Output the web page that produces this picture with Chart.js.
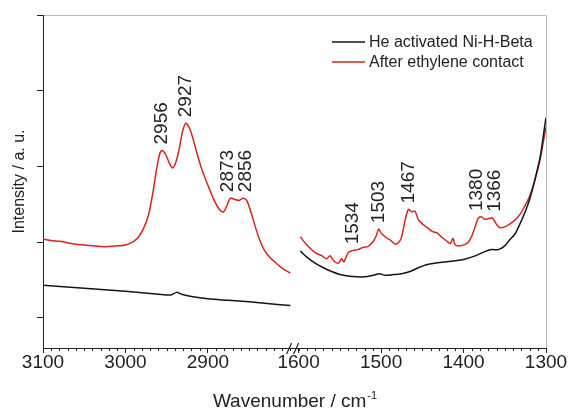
<!DOCTYPE html>
<html>
<head>
<meta charset="utf-8">
<script src="https://cdn.jsdelivr.net/npm/chart.js@4.4.0/dist/chart.umd.min.js"></script>
<style>
  html, body { margin: 0; padding: 0; background: #fff; }
  canvas { display: block; }
</style>
</head>
<body>
<canvas id="irChart" width="569" height="411"></canvas>
<script>
// left part of the broken axis (C-H stretching)
const wnHighRed = [3100, 3090, 3080, 3070, 3060, 3050, 3040, 3030, 3020, 3010, 3000, 2990, 2984, 2978,
    2972, 2966, 2962, 2958, 2955, 2951, 2947, 2943, 2939, 2935, 2931, 2927, 2923, 2919, 2914, 2908,
    2900, 2892, 2886, 2881, 2877, 2873, 2869, 2863, 2857, 2853, 2848, 2843, 2838, 2832, 2825, 2815,
    2808, 2800];
const redHigh = [1.04, 1.02, 1.01, 0.99, 0.97, 0.96, 0.95, 0.94, 0.94, 0.95, 0.96, 1.01, 1.07, 1.18,
    1.36, 1.70, 1.98, 2.18, 2.21, 2.15, 2.05, 1.98, 2.05, 2.22, 2.45, 2.57, 2.52, 2.40, 2.20, 1.98,
    1.75, 1.54, 1.43, 1.40, 1.48, 1.58, 1.57, 1.55, 1.58, 1.55, 1.40, 1.22, 1.05, 0.90, 0.80, 0.70,
    0.64, 0.59];
const wnHighBlack = [3100, 3050, 3000, 2960, 2945, 2938, 2932, 2920, 2900, 2875, 2850, 2825, 2800];
const blackHigh = [0.43, 0.39, 0.35, 0.31, 0.30, 0.335, 0.31, 0.28, 0.25, 0.23, 0.21, 0.185, 0.16];

// right part of the broken axis (C-H bending)
const wnLowRed = [1598, 1590, 1580, 1572, 1566, 1562, 1558, 1552, 1548, 1545, 1540, 1534, 1528, 1522,
    1516, 1510, 1506, 1503, 1500, 1494, 1488, 1482, 1476, 1471, 1467, 1463, 1459, 1455, 1450, 1444,
    1438, 1432, 1426, 1420, 1416, 1413, 1410, 1404, 1398, 1394, 1390, 1386, 1382, 1378, 1374, 1369,
    1365, 1361, 1356, 1348, 1340, 1334, 1328, 1320, 1314, 1307, 1302, 1300];
const redLow = [1.07, 0.96, 0.86, 0.82, 0.78, 0.82, 0.76, 0.72, 0.78, 0.74, 0.86, 0.89, 0.90, 0.93,
    0.94, 1.00, 1.08, 1.17, 1.12, 1.06, 1.02, 0.97, 1.04, 1.28, 1.43, 1.40, 1.41, 1.30, 1.24, 1.19,
    1.14, 1.12, 1.06, 1.01, 0.98, 1.05, 0.96, 0.95, 0.97, 1.00, 1.08, 1.20, 1.32, 1.33, 1.30, 1.31,
    1.32, 1.25, 1.19, 1.21, 1.27, 1.33, 1.43, 1.60, 1.80, 2.10, 2.40, 2.52];
const wnLowBlack = [1598, 1590, 1580, 1570, 1560, 1550, 1540, 1530, 1520, 1510, 1502, 1495, 1485, 1475,
    1465, 1455, 1445, 1435, 1420, 1400, 1385, 1375, 1366, 1358, 1350, 1344, 1338, 1332, 1326, 1320,
    1314, 1307, 1302, 1300];
const blackLow = [0.88, 0.80, 0.72, 0.66, 0.61, 0.57, 0.55, 0.54, 0.54, 0.56, 0.58, 0.56, 0.57, 0.58,
    0.61, 0.66, 0.70, 0.72, 0.74, 0.77, 0.82, 0.87, 0.90, 0.90, 0.95, 1.03, 1.10, 1.23, 1.38, 1.56,
    1.80, 2.13, 2.50, 2.64];

const highTicks = [3100, 3000, 2900];
const lowTicks = [1600, 1500, 1400, 1300];
const yTicks = [0, 1, 2, 3, 4];
const peakLabels = [2956, 2927, 2873, 2856, 1534, 1503, 1467, 1380, 1366];
const seriesNames = ['He activated Ni-H-Beta', 'After ethylene contact'];

const BLACK = '#151515';
const RED = '#d8231f';
const FONT = "'Liberation Sans', Arial, sans-serif";

const toPoints = (xs, ys) => xs.map((x, i) => ({ x: x, y: ys[i] }));

const line = (label, color, points, axis) => ({
    label: label,
    data: points,
    xAxisID: axis,
    borderColor: color,
    borderWidth: 1.5,
    pointRadius: 0,
    tension: 0.3,
    fill: false
});

const xAxis = (min, max, weight, tickValues) => ({
    type: 'linear',
    position: 'bottom',
    stack: 'wavenumber',
    stackWeight: weight,
    min: min,
    max: max,
    reverse: true,
    afterBuildTicks: scale => {
        scale.ticks = tickValues.map(v => ({ value: v }));
    },
    afterFit: scale => { scale.height = 63; },
    ticks: {
        maxRotation: 0,
        autoSkip: false,
        padding: -2,
        color: '#222',
        font: { family: FONT, size: 19 },
        callback: v => String(v)
    },
    grid: { drawOnChartArea: false, tickLength: 5, color: '#222' },
    border: { color: '#222', width: 1 }
});

const decorations = {
    id: 'decorations',
    afterDraw(chart) {
        const { ctx, chartArea: a, scales } = chart;
        const y = scales.y;
        ctx.save();

        // light frame top / right
        ctx.strokeStyle = '#b8b8b8';
        ctx.lineWidth = 1;
        ctx.beginPath();
        ctx.moveTo(a.left + 1, a.top + 0.5);
        ctx.lineTo(a.right + 0.5, a.top + 0.5);
        ctx.lineTo(a.right + 0.5, a.bottom);
        ctx.stroke();

        // minor ticks every 10 cm-1
        ctx.strokeStyle = '#222';
        [scales.xHigh, scales.xLow].forEach(s => {
            const majors = s.ticks.map(t => t.value);
            for (let v = Math.ceil(s.min / 10) * 10; v <= s.max; v += 10) {
                if (majors.includes(v)) continue;
                const px = Math.round(s.getPixelForValue(v)) + 0.5;
                ctx.beginPath();
                ctx.moveTo(px, a.bottom);
                ctx.lineTo(px, a.bottom + 3);
                ctx.stroke();
            }
        });

        // axis break
        const bx = scales.xLow.left;
        ctx.lineWidth = 1.2;
        [-12, -5].forEach(dx => {
            ctx.beginPath();
            ctx.moveTo(bx + dx, a.bottom + 6);
            ctx.lineTo(bx + dx + 5, a.bottom - 5);
            ctx.stroke();
        });

        // x title with superscript
        ctx.fillStyle = '#222';
        ctx.textBaseline = 'alphabetic';
        ctx.textAlign = 'left';
        const main = 'Wavenumber / cm';
        const sup = '-1';
        ctx.font = '19px ' + FONT;
        const wMain = ctx.measureText(main).width;
        ctx.font = '11px ' + FONT;
        const wSup = ctx.measureText(sup).width;
        const tx = (a.left + a.right) / 2 - (wMain + wSup) / 2;
        ctx.font = '19px ' + FONT;
        ctx.fillText(main, tx, 407);
        ctx.font = '11px ' + FONT;
        ctx.fillText(sup, tx + wMain + 1, 399);

        // peak labels above the red curve, spread apart when too close
        const marks = peakLabels.map(wn => {
            const high = wn > 2000;
            const s = high ? scales.xHigh : scales.xLow;
            const xs = high ? wnHighRed : wnLowRed;
            const ys = high ? redHigh : redLow;
            let top = -Infinity;
            xs.forEach((w, i) => { if (Math.abs(w - wn) <= 4) top = Math.max(top, ys[i]); });
            return { wn: wn, px: s.getPixelForValue(wn), py: y.getPixelForValue(top) - 6 };
        }).sort((p, q) => p.px - q.px);
        for (let i = 1; i < marks.length; i++) {
            const gap = marks[i].px - marks[i - 1].px;
            if (gap < 18) {
                const push = (18 - gap) / 2;
                marks[i - 1].px -= push;
                marks[i].px += push;
            }
        }
        ctx.font = '19px ' + FONT;
        ctx.textBaseline = 'middle';
        ctx.textAlign = 'left';
        marks.forEach(m => {
            ctx.save();
            ctx.translate(m.px, m.py);
            ctx.rotate(-Math.PI / 2);
            ctx.fillText(String(m.wn), 0, 0);
            ctx.restore();
        });

        // legend
        ctx.font = '16px ' + FONT;
        ctx.textBaseline = 'middle';
        [BLACK, RED].forEach((c, i) => {
            const ly = a.top + 27 + i * 20;
            ctx.strokeStyle = c;
            ctx.lineWidth = 1.5;
            ctx.beginPath();
            ctx.moveTo(a.right - 214, ly);
            ctx.lineTo(a.right - 181, ly);
            ctx.stroke();
            ctx.fillStyle = '#222';
            ctx.fillText(seriesNames[i], a.right - 177, ly + 1);
        });

        ctx.restore();
    }
};

new Chart(document.getElementById('irChart').getContext('2d'), {
    type: 'line',
    data: {
        datasets: [
            line(seriesNames[0], BLACK, toPoints(wnHighBlack, blackHigh), 'xHigh'),
            line(seriesNames[0], BLACK, toPoints(wnLowBlack, blackLow), 'xLow'),
            line(seriesNames[1], RED, toPoints(wnHighRed, redHigh), 'xHigh'),
            line(seriesNames[1], RED, toPoints(wnLowRed, redLow), 'xLow')
        ]
    },
    options: {
        responsive: false,
        animation: false,
        devicePixelRatio: 1,
        layout: { padding: { top: 15, right: 23, bottom: 0, left: 0 } },
        plugins: {
            legend: { display: false },
            tooltip: { enabled: false }
        },
        scales: {
            xHigh: xAxis(2790, 3100, 310, highTicks),
            xLow: xAxis(1300, 1600, 300, lowTicks),
            y: {
                type: 'linear',
                min: -0.4,
                max: 4,
                afterBuildTicks: scale => {
                    scale.ticks = yTicks.map(v => ({ value: v }));
                },
                afterFit: scale => { scale.width = 43; },
                ticks: { display: false },
                grid: { drawOnChartArea: false, tickLength: 6, color: '#222' },
                border: { color: '#222', width: 1 },
                title: {
                    display: true,
                    text: 'Intensity / a. u.',
                    color: '#222',
                    font: { family: FONT, size: 16 },
                    padding: { top: 10, bottom: 0 }
                }
            }
        }
    },
    plugins: [decorations]
});
</script>
</body>
</html>
